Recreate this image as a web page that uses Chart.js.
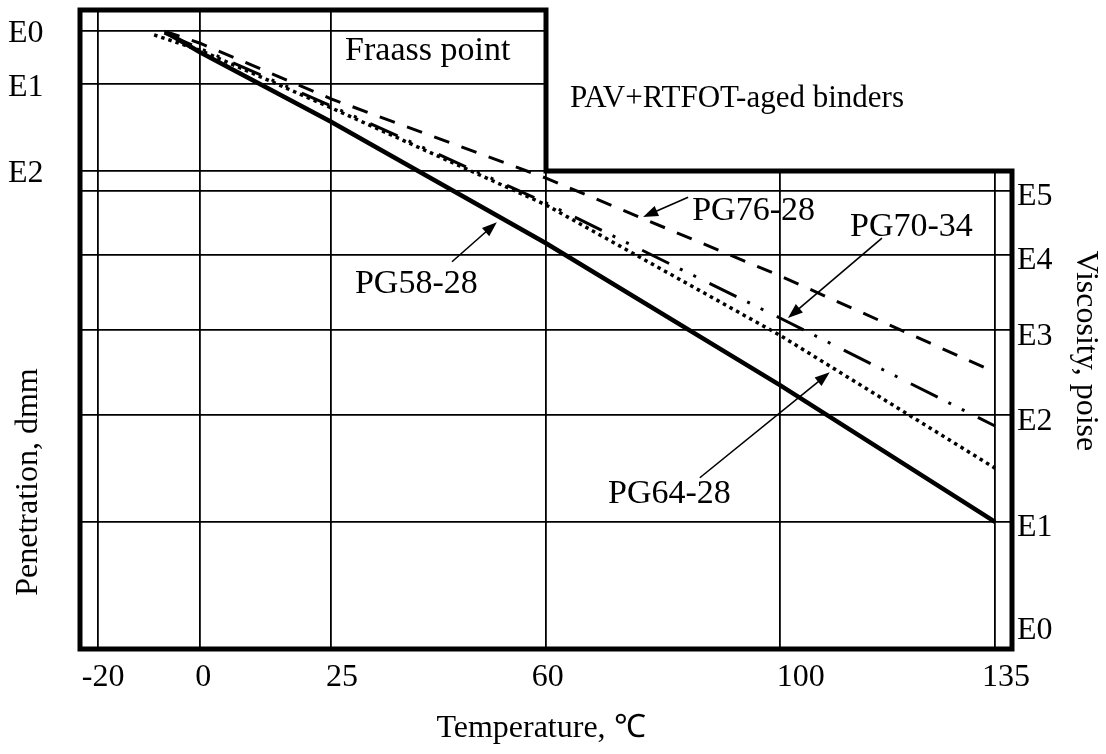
<!DOCTYPE html>
<html>
<head>
<meta charset="utf-8">
<script src="https://cdn.jsdelivr.net/npm/chart.js@4.4.1/dist/chart.umd.min.js"></script>
<style>
  html, body { margin: 0; padding: 0; background: #fff; }
  #wrap { width: 1106px; height: 754px; }
</style>
</head>
<body>
<div id="wrap"><canvas id="btdc"></canvas></div>
<script>
// temperature ticks on the bottom axis, degrees C
const tempTicks = [-20, 0, 25, 60, 100, 135];

// left scale (penetration) and right scale (viscosity) grades
// levels are in chart depth: 0 = top of the frame, 100 = bottom
const penLabels = ['E0', 'E1', 'E2'];
const penLevels = [3.3, 11.6, 25.2];
const viscLabels = ['E5', 'E4', 'E3', 'E2', 'E1', 'E0'];
const viscLevels = [28.3, 38.3, 50.1, 63.4, 80.1, 96.2];

// binder lines
const pg5828Temp = [-6, 0, 25, 60, 100, 135];
const pg5828Level = [3.8, 6.6, 17.5, 36.5, 58.7, 80.1];

const pg6428Temp = [-9, 0, 25, 60, 100, 135];
const pg6428Level = [3.9, 6.3, 15.3, 30.5, 50.9, 71.7];

const pg7034Temp = [-7, 0, 25, 60, 100, 135];
const pg7034Level = [3.6, 6.0, 15.0, 30.2, 48.2, 65.1];

const pg7628Temp = [-7, 0, 25, 60, 100, 135];
const pg7628Level = [3.3, 5.2, 13.9, 26.3, 41.6, 56.7];

const SERIF = '"Liberation Serif", "Times New Roman", serif';

// the temperature axis is not linear: each tick sits at its own share of the width
const tickShare = [0.0193, 0.1288, 0.2693, 0.5, 0.751, 0.9818];

function tempToShare(t) {
  let i = 0;
  while (i < tempTicks.length - 2 && t > tempTicks[i + 1]) i++;
  const k = (tickShare[i + 1] - tickShare[i]) / (tempTicks[i + 1] - tempTicks[i]);
  return tickShare[i] + (t - tempTicks[i]) * k;
}

function shareToTemp(f) {
  let i = 0;
  while (i < tickShare.length - 2 && f > tickShare[i + 1]) i++;
  const k = (tempTicks[i + 1] - tempTicks[i]) / (tickShare[i + 1] - tickShare[i]);
  return tempTicks[i] + (f - tickShare[i]) * k;
}

class TempScale extends Chart.LinearScale {
  getPixelForValue(value) {
    if (value === null || value === undefined) return NaN;
    return this.getPixelForDecimal(tempToShare(value));
  }
  getValueForPixel(pixel) {
    return shareToTemp(this.getDecimalForPixel(pixel));
  }
}
TempScale.id = 'temperature';
TempScale.defaults = Chart.LinearScale.defaults;
Chart.register(TempScale);

function toPoints(temps, levels) {
  return temps.map((t, i) => ({ x: t, y: levels[i] }));
}

function drawArrow(ctx, x1, y1, x2, y2) {
  const ang = Math.atan2(y2 - y1, x2 - x1);
  const len = 15;
  const half = 5.5;
  ctx.beginPath();
  ctx.moveTo(x1, y1);
  ctx.lineTo(x2 - (len - 2) * Math.cos(ang), y2 - (len - 2) * Math.sin(ang));
  ctx.stroke();
  ctx.beginPath();
  ctx.moveTo(x2, y2);
  ctx.lineTo(x2 - len * Math.cos(ang) + half * Math.sin(ang), y2 - len * Math.sin(ang) - half * Math.cos(ang));
  ctx.lineTo(x2 - len * Math.cos(ang) - half * Math.sin(ang), y2 - len * Math.sin(ang) + half * Math.cos(ang));
  ctx.closePath();
  ctx.fill();
}

// callouts: text anchor (left, baseline) and arrow from -> to, in temperature / depth
const callouts = [
  { text: 'PG58-28', at: [28.9, 44.3], from: [44.7, 39.4], to: [52.0, 33.2] },
  { text: 'PG64-28', at: [70.6, 77.2], from: [86.3, 73.2], to: [108.1, 56.7] },
  { text: 'PG76-28', at: [85.0, 32.9], from: [84.3, 29.3], to: [76.6, 32.4] },
  { text: 'PG70-34', at: [111.4, 35.4], from: [116.6, 35.7], to: [101.3, 48.2] },
];

const chartDecor = {
  id: 'chartDecor',
  beforeDatasetsDraw(chart) {
    // blank the corner outside the stepped frame
    const { ctx, scales: { x, y } } = chart;
    const stepX = x.getPixelForValue(60);
    const stepY = y.getPixelForValue(penLevels[2]);
    ctx.save();
    ctx.fillStyle = '#fff';
    ctx.fillRect(stepX + 1, 0, chart.width - stepX, stepY - 1);
    ctx.restore();
  },
  afterDraw(chart) {
    const { ctx, chartArea: a, scales: { x, y } } = chart;
    const stepX = x.getPixelForValue(60);
    const stepY = y.getPixelForValue(penLevels[2]);
    ctx.save();

    // stepped frame
    ctx.strokeStyle = '#000';
    ctx.lineWidth = 5;
    ctx.lineJoin = 'miter';
    ctx.beginPath();
    ctx.moveTo(a.left, a.top);
    ctx.lineTo(stepX, a.top);
    ctx.lineTo(stepX, stepY);
    ctx.lineTo(a.right, stepY);
    ctx.lineTo(a.right, a.bottom);
    ctx.lineTo(a.left, a.bottom);
    ctx.closePath();
    ctx.stroke();

    ctx.fillStyle = '#000';
    ctx.textBaseline = 'alphabetic';
    ctx.textAlign = 'left';
    ctx.font = '34px ' + SERIF;
    ctx.fillText('Fraass point', x.getPixelForValue(27.3), y.getPixelForValue(7.8));
    ctx.font = '31px ' + SERIF;
    ctx.fillText('PAV+RTFOT-aged binders', x.getPixelForValue(64.1), y.getPixelForValue(15.2));

    // callouts
    ctx.lineWidth = 1.6;
    ctx.font = '34px ' + SERIF;
    callouts.forEach((c) => {
      ctx.fillText(c.text, x.getPixelForValue(c.at[0]), y.getPixelForValue(c.at[1]));
      drawArrow(ctx,
        x.getPixelForValue(c.from[0]), y.getPixelForValue(c.from[1]),
        x.getPixelForValue(c.to[0]), y.getPixelForValue(c.to[1]));
    });

    // axis titles
    ctx.font = '32px ' + SERIF;
    ctx.textAlign = 'center';
    ctx.textBaseline = 'middle';
    ctx.fillText('Temperature, \u2103', 541, 729);

    ctx.save();
    ctx.translate(29, 482);
    ctx.rotate(-Math.PI / 2);
    ctx.fillText('Penetration, dmm', 0, 0);
    ctx.restore();

    ctx.save();
    ctx.translate(1085, 351);
    ctx.rotate(Math.PI / 2);
    ctx.fillText('Viscosity, poise', 0, 0);
    ctx.restore();

    ctx.restore();
  },
};

const tickFont = { family: SERIF, size: 32 };
// tiny line height so the side labels do not push the frame down
const sideFont = { family: SERIF, size: 32, lineHeight: 0.2 };

new Chart(document.getElementById('btdc'), {
  type: 'line',
  data: {
    datasets: [
      {
        label: 'PG58-28',
        data: toPoints(pg5828Temp, pg5828Level),
        borderColor: '#000',
        borderWidth: 4.5,
      },
      {
        label: 'PG64-28',
        data: toPoints(pg6428Temp, pg6428Level),
        borderColor: '#000',
        borderWidth: 3.5,
        borderDash: [3.5, 4],
      },
      {
        label: 'PG70-34',
        data: toPoints(pg7034Temp, pg7034Level),
        borderColor: '#000',
        borderWidth: 3,
        borderDash: [30, 12, 3, 12, 3, 15],
      },
      {
        label: 'PG76-28',
        data: toPoints(pg7628Temp, pg7628Level),
        borderColor: '#000',
        borderWidth: 3,
        borderDash: [16, 13],
      },
    ],
  },
  options: {
    responsive: true,
    maintainAspectRatio: false,
    animation: false,
    layout: { padding: { left: 8, top: 10, right: 0, bottom: 0 } },
    elements: {
      point: { radius: 0, hoverRadius: 0 },
      line: { tension: 0, fill: false, borderCapStyle: 'butt' },
    },
    plugins: {
      legend: { display: false },
      tooltip: { enabled: false },
    },
    scales: {
      x: {
        type: 'temperature',
        position: 'bottom',
        min: -23.5,
        max: 137.8,
        bounds: 'data',
        afterBuildTicks: (s) => { s.ticks = tempTicks.map((v) => ({ value: v })); },
        afterFit: (s) => { s.height = 0; },
        ticks: { display: false },
        grid: { color: '#000', lineWidth: 1.8, drawTicks: false },
        border: { display: false },
      },
      xl: {
        type: 'temperature',
        position: 'bottom',
        min: -23.5,
        max: 137.8,
        bounds: 'data',
        afterBuildTicks: (s) => { s.ticks = [-19, 0.6, 26.8, 60.3, 103.4, 136.8].map((v) => ({ value: v })); },
        afterFit: (s) => { s.height = 105; },
        ticks: {
          autoSkip: false,
          maxRotation: 0,
          padding: 9,
          color: '#000',
          font: tickFont,
          callback: (v, i) => String(tempTicks[i]),
        },
        grid: { display: false, drawTicks: false },
        border: { display: false },
      },
      y: {
        type: 'linear',
        position: 'left',
        reverse: true,
        min: 0,
        max: 100,
        afterBuildTicks: (s) => { s.ticks = penLevels.map((v) => ({ value: v })); },
        afterFit: (s) => { s.width = 72; },
        ticks: {
          autoSkip: false,
          crossAlign: 'far',
          padding: 0,
          labelOffset: 3,
          color: '#000',
          font: sideFont,
          callback: (v, i) => penLabels[i],
        },
        grid: { color: '#000', lineWidth: 1.8, drawTicks: false },
        border: { display: false },
      },
      y2: {
        type: 'linear',
        position: 'right',
        reverse: true,
        min: 0,
        max: 100,
        afterBuildTicks: (s) => { s.ticks = viscLevels.map((v) => ({ value: v })); },
        afterFit: (s) => { s.width = 94; },
        ticks: {
          autoSkip: false,
          crossAlign: 'near',
          padding: 5,
          labelOffset: 6,
          color: '#000',
          font: sideFont,
          callback: (v, i) => viscLabels[i],
        },
        grid: {
          color: (c) => (c.index === viscLevels.length - 1 ? 'rgba(0,0,0,0)' : '#000'),
          lineWidth: 1.8,
          drawTicks: false,
        },
        border: { display: false },
      },
    },
  },
  plugins: [chartDecor],
});
</script>
</body>
</html>
